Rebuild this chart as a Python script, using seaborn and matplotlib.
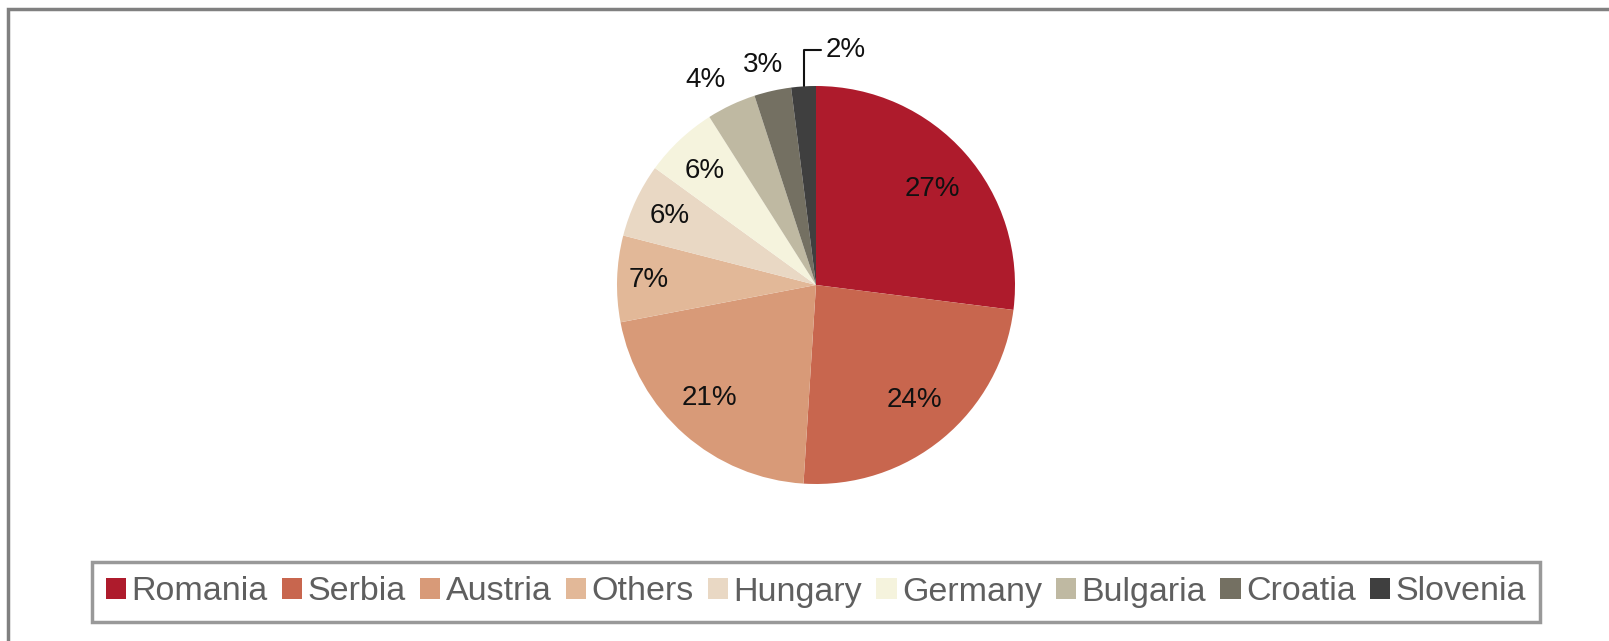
import numpy as np
import matplotlib
matplotlib.use("Agg")
import matplotlib.pyplot as plt
import matplotlib.patches as mpatches
import seaborn as sns

# data
countries = ["Romania", "Serbia", "Austria", "Others", "Hungary",
             "Germany", "Bulgaria", "Croatia", "Slovenia"]
shares = [27, 24, 21, 7, 6, 6, 4, 3, 2]
colors = ["#AE1B2C", "#C8664E", "#D89A78", "#E2B898", "#E9D8C4",
          "#F5F3DD", "#BFB9A2", "#747062", "#3F3F3F"]
# how far out each % label sits (fraction of radius) and small angle nudges
label_r = [0.76, 0.76, 0.78, 0.84, 0.81, 0.80, 1.17, 1.14, None]
label_nudge = [-2, 1, -2, 0, 0, 1, 3, 1, 0]

sns.set_theme(style="white")
plt.rcParams["font.family"] = ["Liberation Sans", "DejaVu Sans"]

W, H = 1609, 641
fig = plt.figure(figsize=(W / 100, H / 100), dpi=100)

# outer frame
fig.patches.append(mpatches.Rectangle((8 / W, -0.2), 1.2, (632 / H) + 0.2,
                                      transform=fig.transFigure, fill=False,
                                      edgecolor="#808080", linewidth=2.5))

# pie axes: centre (816, 285) px, radius ~199 px
half = 260
ax = fig.add_axes([(816 - half) / W, (H - 285 - half) / H, 2 * half / W, 2 * half / H])
k = half / 199
wedges, _ = ax.pie(shares, colors=colors, startangle=90, counterclock=False,
                   radius=1.0, wedgeprops=dict(linewidth=0))
ax.set_xlim(-k, k)
ax.set_ylim(-k, k)
ax.set_aspect("equal")
ax.axis("off")

for w, val, r, nd in zip(wedges, shares, label_r, label_nudge):
    ang = np.deg2rad((w.theta1 + w.theta2) / 2 + nd)
    if r is not None:
        ax.text(r * np.cos(ang), r * np.sin(ang), f"{val}%", ha="center",
                va="center", fontsize=20, color="#111111")
    else:
        ax.annotate(f"{val}%", xy=(np.cos(ang), np.sin(ang)), xytext=(0.05, 1.18),
                    ha="left", va="center", fontsize=20, color="#111111",
                    arrowprops=dict(arrowstyle="-", color="#111111", lw=1.5,
                                    shrinkA=1, shrinkB=0,
                                    connectionstyle="angle,angleA=0,angleB=90,rad=0"))

handles = [mpatches.Patch(facecolor=c, edgecolor="none") for c in colors]
leg = fig.legend(handles, countries, ncol=9, loc="center",
                 bbox_to_anchor=(816 / W, (H - 592) / H), fontsize=24.5,
                 frameon=True, fancybox=False, edgecolor="#808080",
                 handlelength=0.6, handleheight=0.6, handletextpad=0.15,
                 columnspacing=0.42, borderpad=0.42, borderaxespad=0)
leg.get_frame().set_linewidth(2.5)
for t in leg.get_texts():
    t.set_color("#5f5f5f")

fig.savefig("out.png", dpi=100)
